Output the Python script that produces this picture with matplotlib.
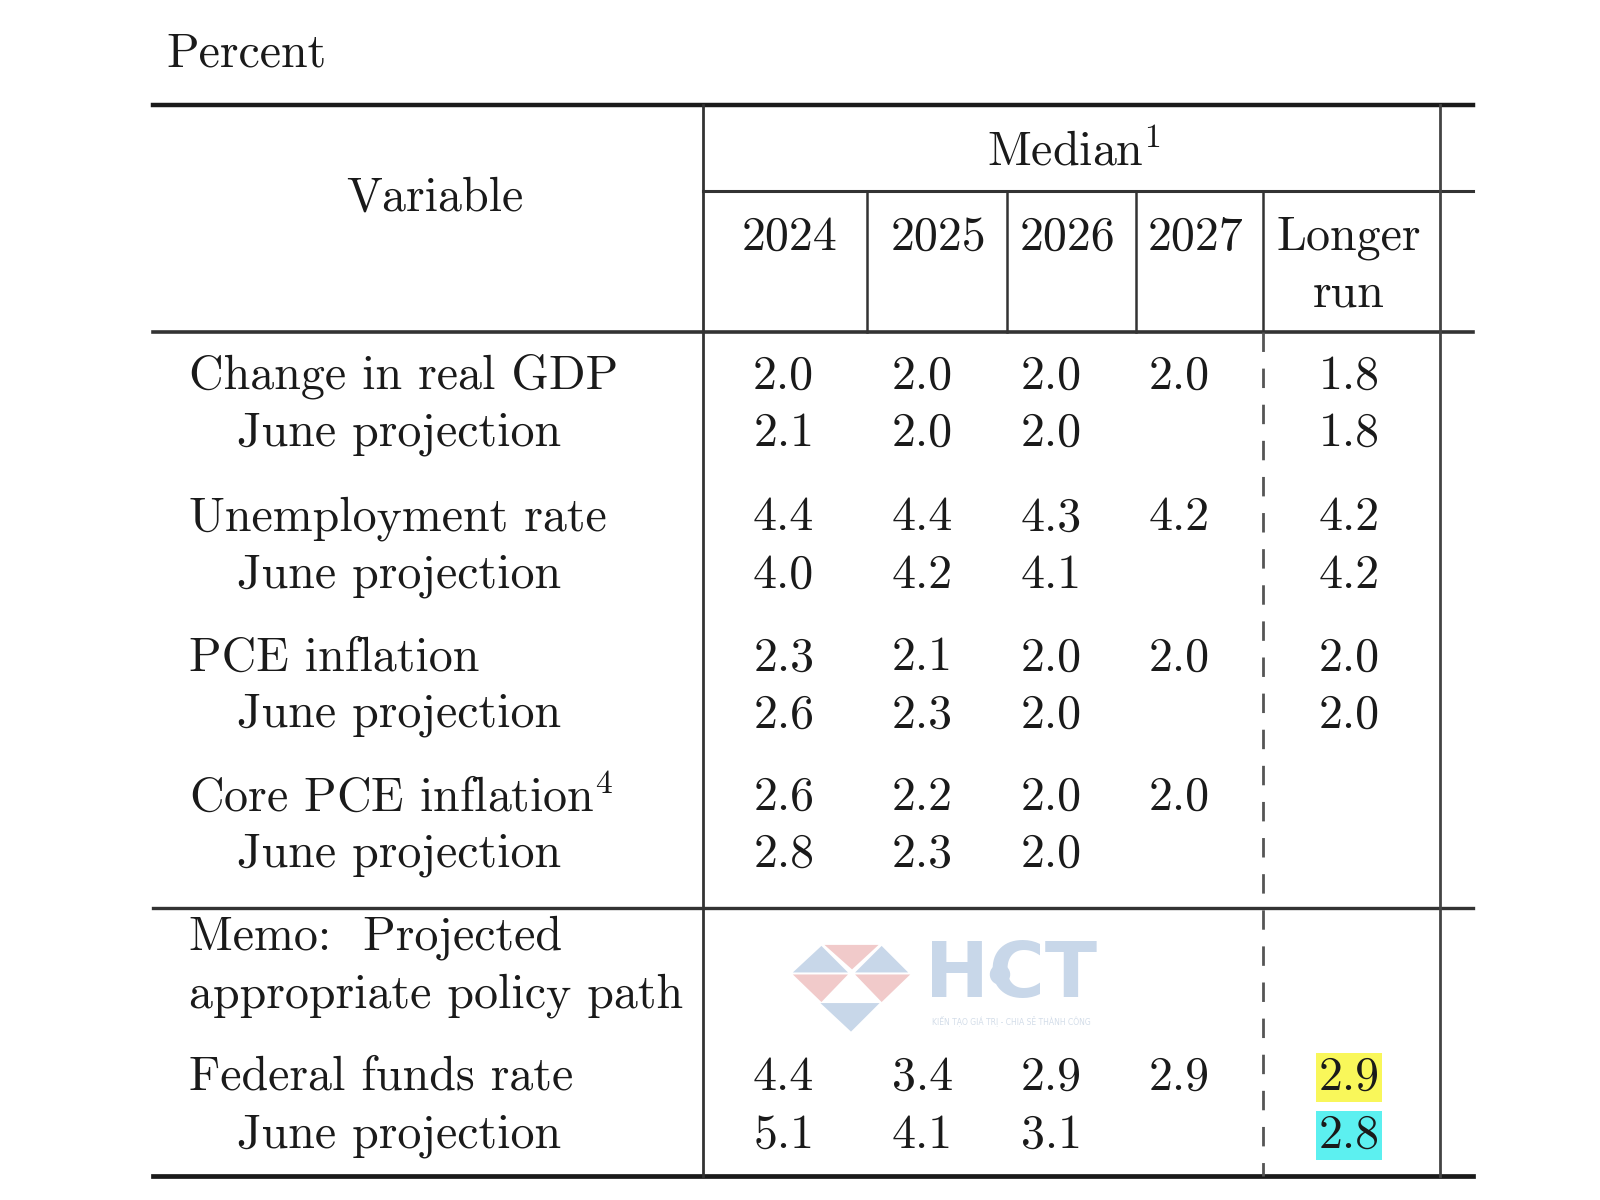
import matplotlib.pyplot as plt
from matplotlib.patches import Polygon, Circle

plt.rcParams['mathtext.fontset'] = 'cm'
plt.rcParams['axes.formatter.use_mathtext'] = True

# Table contents
years = ["2024", "2025", "2026", "2027"]
variables = ["Change in real GDP", "Unemployment rate", "PCE inflation",
             "Core PCE inflation$^{4}$"]
median_sep = [["2.0", "2.0", "2.0", "2.0", "1.8"],
              ["4.4", "4.4", "4.3", "4.2", "4.2"],
              ["2.3", "2.1", "2.0", "2.0", "2.0"],
              ["2.6", "2.2", "2.0", "2.0", ""]]
median_june = [["2.1", "2.0", "2.0", "", "1.8"],
               ["4.0", "4.2", "4.1", "", "4.2"],
               ["2.6", "2.3", "2.0", "", "2.0"],
               ["2.8", "2.3", "2.0", "", ""]]
fed_sep = ["4.4", "3.4", "2.9", "2.9", "2.9"]
fed_june = ["5.1", "4.1", "3.1", "", "2.8"]

# layout (in pixels of a 1568x1176 canvas)
W, H = 1568, 1176
FS = 34.5
FONT = 'cmr10'
DY = 3
val_x = [768, 904, 1030, 1156, 1322]
year_x = [774, 920, 1046, 1172]
row_y = [366, 505, 642, 779]
row_gap = 56
ink = '#1a1a1a'

fig = plt.figure(figsize=(16, 12), dpi=100)
ax = fig.add_axes([0, 0, 1, 1])
ax.set_xlim(0, W)
ax.set_ylim(H, 0)
ax.axis('off')


def txt(x, y, s, ha='center', **kw):
    ax.text(x, y + DY, s, ha=ha, va='center', fontsize=FS, family=FONT,
            color=ink, **kw)


# rules
ax.plot([150, 1444], [103, 103], color=ink, lw=3.2)
ax.plot([689, 1444], [187, 187], color='#333333', lw=2.2)
ax.plot([150, 1444], [325, 325], color='#333333', lw=2.6)
ax.plot([150, 1444], [890, 890], color='#333333', lw=2.4)
ax.plot([150, 1444], [1152, 1152], color=ink, lw=3.4)
ax.plot([689, 689], [103, 1152], color='#333333', lw=2.0)
ax.plot([1411, 1411], [103, 1152], color='#444444', lw=2.0)
for x in [850, 987, 1113, 1238]:
    ax.plot([x, x], [187, 325], color='#333333', lw=1.8)
ax.plot([1238, 1238], [325, 1152], color='#555555', lw=2.0,
        dashes=(7, 6))

# header
txt(163, 50, "Percent", ha='left')
txt(426, 192, "Variable")
txt(1052, 147, "Median$^{1}$")
for x, yr in zip(year_x, years):
    txt(x, 230, yr)
txt(1322, 230, "Longer")
txt(1322, 285, "run")

# body
for i, name in enumerate(variables):
    y = row_y[i]
    txt(185, y, name, ha='left')
    txt(232, y + row_gap, "June projection", ha='left')
    for x, v in zip(val_x, median_sep[i]):
        txt(x, y, v)
    for x, v in zip(val_x, median_june[i]):
        txt(x, y + row_gap, v)

txt(185, 916, "Memo:  Projected", ha='left')
txt(185, 973, "appropriate policy path", ha='left')
txt(185, 1053, "Federal funds rate", ha='left')
txt(232, 1110, "June projection", ha='left')
for j, (x, v) in enumerate(zip(val_x, fed_sep)):
    if j == 4:
        txt(x, 1053, v, bbox=dict(boxstyle='square,pad=0.05',
                                  fc='#f9f75a', ec='none'))
    else:
        txt(x, 1053, v)
for j, (x, v) in enumerate(zip(val_x, fed_june)):
    if j == 4:
        txt(x, 1110, v, bbox=dict(boxstyle='square,pad=0.05',
                                  fc='#5cf0f0', ec='none'))
    else:
        txt(x, 1110, v)

# faint watermark logo
red, blue = '#f1caca', '#c8d7e9'
tris = [([777, 953], [805, 927], [831, 953], blue),
        ([808, 926], [861, 926], [835, 950], red),
        ([838, 953], [864, 927], [890, 953], blue),
        ([777, 955], [831, 955], [805, 982], red),
        ([838, 955], [892, 955], [864, 982], red),
        ([804, 983], [862, 983], [834, 1011], blue)]
for a, b, c, col in tris:
    ax.add_patch(Polygon([a, b, c], closed=True, fc=col, ec='none',
                         zorder=0))
ax.text(991, 956, "HCT", ha='center', va='center', fontsize=55,
        family='DejaVu Sans', weight='bold', color='#c8d7e9', zorder=0)
ax.add_patch(Circle((980, 955), 10, fc='#c8d7e9', ec='none', zorder=0))
ax.text(991, 1000, "KIẾN TẠO GIÁ TRỊ - CHIA SẺ THÀNH CÔNG", ha='center',
        va='center', fontsize=5.5, family='DejaVu Sans', color='#d3dde9',
        zorder=0)

fig.savefig('out.png', dpi=100, facecolor='white')
